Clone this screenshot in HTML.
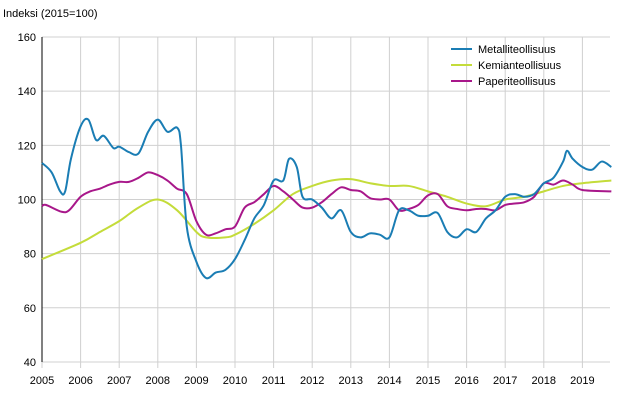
<!DOCTYPE html>
<html><head><meta charset="utf-8"><style>
body{margin:0;background:#fff;}
svg{display:block;font-family:"Liberation Sans",sans-serif;}
</style></head><body>
<svg id="chart" width="620" height="400">
<text x="3" y="17" font-size="11" fill="#000">Indeksi (2015=100)</text>
<g id="grid"></g><g id="ticks"></g><g id="series"></g>
<g>
<line x1="451" y1="49" x2="472" y2="49" stroke="#1a7db4" stroke-width="2"/>
<text x="478" y="53" font-size="11">Metalliteollisuus</text>
<line x1="451" y1="65" x2="472" y2="65" stroke="#c4dc3a" stroke-width="2"/>
<text x="478" y="69" font-size="11">Kemianteollisuus</text>
<line x1="451" y1="81" x2="472" y2="81" stroke="#a8178a" stroke-width="2"/>
<text x="478" y="85" font-size="11">Paperiteollisuus</text>
</g>
</svg>
<script>
const yTicks=[40,60,80,100,120,140,160];
const xTicks=[2005,2006,2007,2008,2009,2010,2011,2012,2013,2014,2015,2016,2017,2018,2019];
const metT=[2005,2005.25,2005.47,2005.6,2005.75,2006,2006.2,2006.4,2006.6,2006.85,2007,2007.25,2007.5,2007.75,2008,2008.25,2008.5,2008.6,2008.75,2009,2009.25,2009.5,2009.75,2010,2010.25,2010.5,2010.75,2011,2011.25,2011.4,2011.6,2011.75,2012,2012.25,2012.5,2012.75,2013,2013.25,2013.5,2013.75,2014,2014.25,2014.5,2014.75,2015,2015.25,2015.5,2015.75,2016,2016.25,2016.5,2016.75,2017,2017.25,2017.5,2017.75,2018,2018.25,2018.5,2018.6,2018.75,2019,2019.25,2019.5,2019.75];
const metV=[113.5,110,103,103,115,127,129.5,122,123.5,119,119.5,117.5,117,125,129.5,125,126.5,120,90,77,71,73,74,78,85,93,98,107,107,115,112,101,100,97,93,96,88,86,87.5,87,86,96,96,94,94,95,88,86,89,88,93,96,101,102,101,102,106,108,114,118,115,112,111,114,112];
const kemT=[2005,2006,2006.5,2007,2007.5,2008,2008.5,2009,2009.25,2009.75,2010,2010.5,2011,2011.5,2012,2012.5,2013,2013.5,2014,2014.5,2015,2015.5,2016,2016.5,2017,2017.5,2018,2018.5,2019,2019.75];
const kemV=[78,84,88,92,97,100,96,88,86,86,87,91,96,102,105,107,107.5,106,105,105,103,101,98.5,97.5,100,101,103,105,106,107];
const papT=[2005,2005.1,2005.5,2005.7,2006,2006.25,2006.5,2006.75,2007,2007.25,2007.5,2007.75,2008,2008.25,2008.5,2008.75,2009,2009.25,2009.5,2009.75,2010,2010.25,2010.5,2010.75,2011,2011.25,2011.5,2011.75,2012,2012.25,2012.5,2012.75,2013,2013.25,2013.5,2013.75,2014,2014.25,2014.5,2014.75,2015,2015.25,2015.5,2015.75,2016,2016.25,2016.5,2016.75,2017,2017.25,2017.5,2017.75,2018,2018.25,2018.5,2018.75,2019,2019.75];
const papV=[97.5,98,95.5,96,101,103,104,105.5,106.5,106.5,108,110,109,107,104,102,92,87,87.5,89,90,97,99,102,105,103,100,97,97,99,102,104.5,103.5,103,100.5,100,100,96,96.5,98,101.5,102,97.5,96.5,96,96.5,96.5,96,98,98.5,99,101,106,105.5,107,105.5,103.5,103];
const NS="http://www.w3.org/2000/svg";
const x=t=>42+(t-2005)*38.6, y=v=>37+(160-v)*2.708;
function mk(tag,attrs,parent){const e=document.createElementNS(NS,tag);for(const k in attrs)e.setAttribute(k,attrs[k]);parent.appendChild(e);return e;}
const grid=document.getElementById('grid'),ticks=document.getElementById('ticks'),ser=document.getElementById('series');
yTicks.forEach(v=>{
 const l=mk('line',{x1:42,x2:610,y1:y(v),y2:y(v),stroke:'#d0d0d0','stroke-width':1},grid);
 
 
 const t=mk('text',{x:36,y:y(v)+4,'font-size':11,'text-anchor':'end'},ticks);t.textContent=v;
 
 
});
xTicks.forEach(v=>{
 const l=mk('line',{x1:x(v),x2:x(v),y1:37,y2:368,stroke:'#d0d0d0','stroke-width':1},grid);
 
 
 const t=mk('text',{x:x(v),y:384,'font-size':11,'text-anchor':'middle'},ticks);t.textContent=v;
 
 
});
const ax=mk('line',{x1:42,x2:42,y1:37,y2:362,stroke:'#000','stroke-width':1},ticks);


function smooth(T,V){const p=T.map((t,i)=>[x(t),y(V[i])]);let d='M'+p[0][0]+','+p[0][1];
 for(let i=0;i<p.length-1;i++){const p0=p[i-1]||p[i],p1=p[i],p2=p[i+1],p3=p[i+2]||p2;
  d+=' C'+(p1[0]+(p2[0]-p0[0])/6)+','+(p1[1]+(p2[1]-p0[1])/6)+' '+(p2[0]-(p3[0]-p1[0])/6)+','+(p2[1]-(p3[1]-p1[1])/6)+' '+p2[0]+','+p2[1];}
 return d;}
const s1=mk('path',{d:smooth(kemT,kemV),fill:'none',stroke:'#c4dc3a','stroke-width':2},ser);


const s2=mk('path',{d:smooth(papT,papV),fill:'none',stroke:'#a8178a','stroke-width':2},ser);


const s3=mk('path',{d:smooth(metT,metV),fill:'none',stroke:'#1a7db4','stroke-width':2},ser);


</script>
</body></html>
